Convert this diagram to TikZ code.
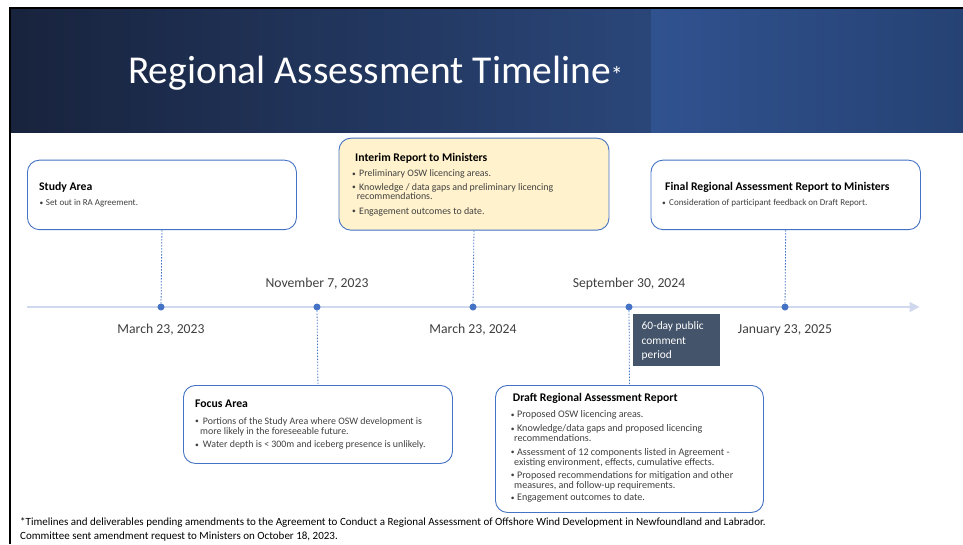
\documentclass[tikz,border=0pt]{standalone}
\usepackage{fontspec}
\setmainfont{Carlito}
\usetikzlibrary{arrows.meta}
\definecolor{hdrA}{HTML}{18233D}
\definecolor{hdrB}{HTML}{2A4679}
\definecolor{hdrC}{HTML}{30528F}
\definecolor{hdrD}{HTML}{264274}
\definecolor{boxblue}{HTML}{4472C4}
\definecolor{axiscol}{HTML}{CFD8EC}
\definecolor{yell}{HTML}{FFF2CC}
\definecolor{slate}{HTML}{44546A}
\definecolor{txt}{HTML}{404040}
\tikzset{
 rbox/.style={draw=boxblue, line width=0.9pt, rounded corners=12pt, anchor=north west, inner sep=0},
 ttl/.style={anchor=base west, inner sep=0, font=\bfseries\fontsize{11.7}{14}\selectfont, text=black},
 bsm/.style={anchor=base west, inner sep=0, font=\fontsize{9}{10}\selectfont, text=txt},
 bmd/.style={anchor=base west, inner sep=0, font=\fontsize{9.9}{11}\selectfont, text=txt},
 bdr/.style={anchor=base west, inner sep=0, font=\fontsize{10.1}{11}\selectfont, text=txt},
 datelbl/.style={anchor=base, inner sep=0, font=\fontsize{13.7}{16}\selectfont, text=txt},
 dotn/.style={circle, fill=boxblue, inner sep=0, minimum size=7pt},
 conn/.style={draw=boxblue, line width=0.8pt, dash pattern=on 1.5pt off 1.5pt},
 notebox/.style={fill=slate, anchor=north west, inner sep=0, minimum width=87pt, minimum height=52pt},
 notetxt/.style={anchor=base west, inner sep=0, font=\fontsize{11.4}{13}\selectfont, text=white},
 foot/.style={anchor=base west, inner sep=0, font=\fontsize{11}{13}\selectfont, text=black},
}
\newcommand{\bu}[1]{\makebox[#1][l]{\kern-1pt{\fontsize{7.5}{8}\selectfont\raisebox{0.6pt}{•}}}}
\begin{document}
\begin{tikzpicture}[x=1pt,y=-1pt]
\useasboundingbox (0,0) rectangle (963,544);
\fill[white] (0,0) rectangle (963,544);
% header
\shade[left color=hdrA, right color=hdrB] (10,8) rectangle (651,132);
\shade[left color=hdrC, right color=hdrD] (651,8) rectangle (963,132);
\draw[line width=2pt, black] (10,544) -- (10,7.5) -- (963,7.5);
\node[anchor=base west, inner sep=0, text=white, font=\fontsize{39.5}{48}\selectfont] (title) at (128,83)
  {Regional Assessment Timeline{\fontsize{24}{24}\selectfont*}};

% axis
\coordinate (axL) at (27,307);
\coordinate (axR) at (919.5,307);
\draw[draw=axiscol, line width=1.3pt, -{Triangle[length=10pt,width=10pt]}] (axL) -- (axR);

% dots
\node[dotn] (d1) at (161,307) {};
\node[dotn] (d2) at (317,307) {};
\node[dotn] (d3) at (473,307) {};
\node[dotn] (d4) at (629,307) {};
\node[dotn] (d5) at (785,307) {};

% boxes
\node[rbox, minimum width=269pt, minimum height=69.5pt] (study) at (27,159.7) {};
\node[rbox, fill=yell, minimum width=270pt, minimum height=92pt] (interim) at (338.5,137.7) {};
\node[rbox, minimum width=269.5pt, minimum height=69.5pt] (final) at (650.5,159.7) {};
\node[rbox, minimum width=269pt, minimum height=78pt] (focus) at (183,385) {};
\node[rbox, minimum width=268pt, minimum height=127pt] (draft) at (495,385) {};

% connectors
\draw[conn] (study.south) -- (d1);
\draw[conn] (d2) -- (focus.north);
\draw[conn] (interim.south) -- (d3);
\draw[conn] (d4) -- (draft.north);
\draw[conn] (final.south) -- (d5);

% dates
\node[datelbl] (t1) at (161,333) {March 23, 2023};
\node[datelbl] (t2) at (317,287) {November 7, 2023};
\node[datelbl] (t3) at (473,333) {March 23, 2024};
\node[datelbl] (t4) at (629,287) {September 30, 2024};
\node[datelbl] (t5) at (785,333) {January 23, 2025};

% 60-day note
\node[notebox] (note) at (633,314) {};
\node[notetxt] (n1) at (641.5,329.5) {60-day public};
\node[notetxt] (n2) at (641.5,344) {comment};
\node[notetxt] (n3) at (641.5,358.5) {period};

% study text
\node[ttl] (sT) at (39,190) {Study Area};
\node[bsm] (s1) at (40.5,205.7) {\bu{5.2pt}Set out in RA Agreement.};

% final text
\node[ttl] (fT) at (665,190) {Final Regional Assessment Report to Ministers};
\node[bsm] (f1) at (663,205.7) {\bu{6pt}Consideration of participant feedback on Draft Report.};

% interim text
\node[ttl] (iT) at (355,161) {Interim Report to Ministers};
\node[bmd] (i1) at (353,176.7) {\bu{6pt}Preliminary OSW licencing areas.};
\node[bmd] (i2) at (353,190) {\bu{6pt}Knowledge / data gaps and preliminary licencing};
\node[bmd] (i2b) at (356.7,199.5) {recommendations.};
\node[bmd] (i3) at (353,214) {\bu{6pt}Engagement outcomes to date.};

% focus text
\node[ttl] (oT) at (195,407.7) {Focus Area};
\node[bmd] (o1) at (196,424.3) {\bu{6.7pt}Portions of the Study Area where OSW development is};
\node[bmd] (o1b) at (200,434.3) {more likely in the foreseeable future.};
\node[bmd] (o2) at (196,447.7) {\bu{6.7pt}Water depth is < 300m and iceberg presence is unlikely.};

% draft text
\node[ttl] (rT) at (512.7,401) {Draft Regional Assessment Report};
\node[bdr] (r1) at (511.7,417.7) {\bu{5.2pt}Proposed OSW licencing areas.};
\node[bdr] (r2) at (511.7,431.7) {\bu{5.2pt}Knowledge/data gaps and proposed licencing};
\node[bdr] (r2b) at (514,441.7) {recommendations.};
\node[bdr] (r3) at (511.7,455) {\bu{5.2pt}Assessment of 12 components listed in Agreement -};
\node[bdr] (r3b) at (514,465) {existing environment, effects, cumulative effects.};
\node[bdr] (r4) at (511.7,478.3) {\bu{5.2pt}Proposed recommendations for mitigation and other};
\node[bdr] (r4b) at (514,488.3) {measures, and follow-up requirements.};
\node[bdr] (r5) at (511.7,500.7) {\bu{5.2pt}Engagement outcomes to date.};

% footnote
\node[foot] (fn1) at (20,525.5) {*Timelines and deliverables pending amendments to the Agreement to Conduct a Regional Assessment of Offshore Wind Development in Newfoundland and Labrador.};
\node[foot] (fn2) at (20,539.5) {Committee sent amendment request to Ministers on October 18, 2023.};
\end{tikzpicture}
\end{document}
